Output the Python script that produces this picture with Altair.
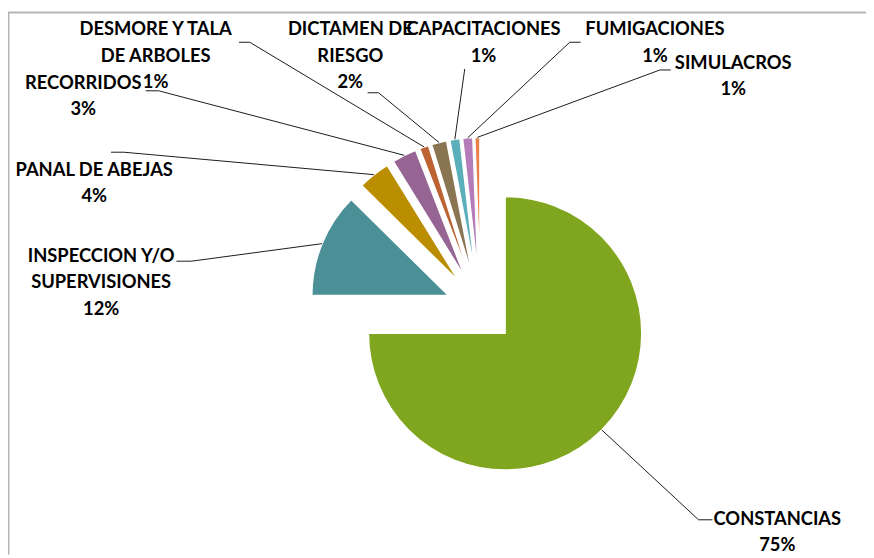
import altair as alt
import pandas as pd

# ---- data ----
categories = ["CONSTANCIAS", "INSPECCION Y/O SUPERVISIONES", "PANAL DE ABEJAS", "RECORRIDOS",
              "DESMORE Y TALA DE ARBOLES", "DICTAMEN DE RIESGO", "CAPACITACIONES",
              "FUMIGACIONES", "SIMULACROS"]
label_names = ["CONSTANCIAS", "INSPECCION Y/O\nSUPERVISIONES", "PANAL DE ABEJAS", "RECORRIDOS",
               "DESMORE Y TALA\nDE ARBOLES", "DICTAMEN DE\nRIESGO", "CAPACITACIONES",
               "FUMIGACIONES", "SIMULACROS"]
values = [75.0, 12.4, 3.8, 2.9, 1.1, 1.8, 1.2, 1.2, 0.6]
colors = ["#80A61F", "#4A9096", "#BA8E00", "#976594", "#BC6233", "#8A7552",
          "#5AAFBB", "#B57CBA", "#E8804A"]

# ---- annotation layout (page pixels) ----
label_x = [784.5, 102, 95, 84, 157, 353.5, 488, 661, 740]
label_y = [527, 262, 175, 87, 33, 33, 33, 33, 67]
elbow_x = [705, 193, 125, 160, 252, 382, 469, 575, 666]
elbow_y = [522, 261, 151, 89, 40, 91, 67, 40, 68]
stub_x = [719, 178, 112, 147, 241, 371, 469, 586, 677]

CX, CY, D, R = 485, 309, 35, 138
W, H = 866, 549

df = pd.DataFrame({
    "order": list(range(len(categories))),
    "category": categories,
    "name": label_names,
    "value": values,
    "lx": label_x, "ly": label_y,
    "kx": elbow_x, "ky": elbow_y, "sx": stub_x,
})

xs = alt.Scale(domain=[8, 8 + W], zero=False, nice=False)
ys = alt.Scale(domain=[8, 8 + H], zero=False, nice=False, reverse=True)

base = alt.Chart(df).transform_window(
    cum="sum(value)", sort=[alt.SortField("order")], frame=[None, 0]
).transform_joinaggregate(
    total="sum(value)"
).transform_calculate(
    t1="datum.cum / datum.total * 2 * PI",
    t0="(datum.cum - datum.value) / datum.total * 2 * PI",
).transform_calculate(
    mid="(datum.t0 + datum.t1) / 2"
).transform_calculate(
    cx=f"{CX} + {D} * sin(datum.mid)",
    cy=f"{CY} - {D} * cos(datum.mid)",
    ex=f"{CX} + {D + R} * sin(datum.mid)",
    ey=f"{CY} - {D + R} * cos(datum.mid)",
    txt="datum.name + '\\n' + format(datum.value / datum.total, '.0%')",
)

arcs = base.mark_arc(outerRadius=R, stroke="white", strokeWidth=1.5).encode(
    x=alt.X("cx:Q", scale=xs, axis=None),
    y=alt.Y("cy:Q", scale=ys, axis=None),
    theta=alt.Theta("t0:Q", scale=None),
    theta2=alt.Theta2("t1:Q"),
    color=alt.Color("category:N", scale=alt.Scale(domain=categories, range=colors), legend=None),
)

lead1 = base.mark_rule(color="#1a1a1a", strokeWidth=1).encode(
    x=alt.X("ex:Q", scale=xs, axis=None), y=alt.Y("ey:Q", scale=ys, axis=None),
    x2="kx:Q", y2="ky:Q",
)
lead2 = base.mark_rule(color="#1a1a1a", strokeWidth=1).encode(
    x=alt.X("kx:Q", scale=xs, axis=None), y=alt.Y("ky:Q", scale=ys, axis=None),
    x2="sx:Q", y2="ky:Q",
)

labels = base.mark_text(
    lineBreak="\n", align="center", baseline="alphabetic",
    font="Lato", fontWeight="bold", fontSize=18.5, lineHeight=26.5, color="#000000",
).encode(
    x=alt.X("lx:Q", scale=xs, axis=None),
    y=alt.Y("ly:Q", scale=ys, axis=None),
    text="txt:N",
)

frame_df = pd.DataFrame({"k": [0]})
top_rule = alt.Chart(frame_df).mark_rule(color="#B4B4B4", strokeWidth=2).encode(
    x=alt.value(0), x2=alt.value(W), y=alt.value(2)
)
left_rule = alt.Chart(frame_df).mark_rule(color="#B4B4B4", strokeWidth=2).encode(
    x=alt.value(0.5), y=alt.value(2), y2=alt.value(H)
)

chart = alt.layer(top_rule, left_rule, arcs, lead1, lead2, labels).properties(
    width=W, height=H, padding=0, autosize="none"
).configure_view(stroke=None)

chart.save("out.html", embed_options={"renderer": "svg", "actions": False})
